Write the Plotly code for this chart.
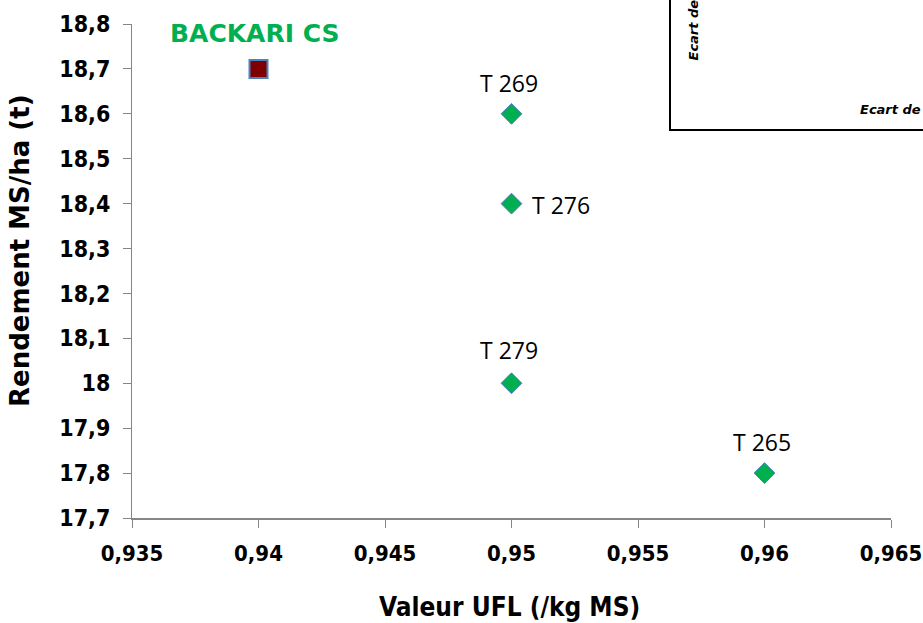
import plotly.graph_objects as go

# Data
ref_name = ["BACKARI CS"]
ref_ufl = [0.94]
ref_rend = [18.7]

names = ["T 269", "T 276", "T 279", "T 265"]
ufl = [0.95, 0.95, 0.95, 0.96]
rend = [18.6, 18.4, 18.0, 17.8]

x_ticks = [0.935, 0.94, 0.945, 0.95, 0.955, 0.96, 0.965]
x_tick_text = ["0,935", "0,94", "0,945", "0,95", "0,955", "0,96", "0,965"]
y_ticks = [17.7, 17.8, 17.9, 18.0, 18.1, 18.2, 18.3, 18.4, 18.5, 18.6, 18.7, 18.8]
y_tick_text = ["17,7", "17,8", "17,9", "18", "18,1", "18,2", "18,3", "18,4", "18,5", "18,6", "18,7", "18,8"]

x_title = "Valeur UFL (/kg MS)"
y_title = "Rendement MS/ha (t)"

# label placement styles (pixels)
label_style = [
    dict(xanchor="center", xshift=-3, yshift=31),
    dict(xanchor="left", xshift=18, yshift=-1),
    dict(xanchor="center", xshift=-3, yshift=33),
    dict(xanchor="center", xshift=-3, yshift=31),
]

W, H = 923, 623
L, R, T, B = 132, 32, 24, 105
pw, ph = W - L - R, H - T - B

label_font = dict(family="Open Sans, sans-serif", size=23, color="black")
cond_bold = "DejaVu Sans Condensed, DejaVu Sans, sans-serif"
tick_font = dict(family=cond_bold, size=23, color="black", weight="bold")

fig = go.Figure()

fig.add_trace(go.Scatter(
    x=ufl, y=rend, mode="markers",
    marker=dict(symbol="diamond", size=16, color="#00B050",
                line=dict(color="#4F81BD", width=1)),
    showlegend=False, cliponaxis=False, hoverinfo="skip",
))

fig.add_trace(go.Scatter(
    x=ref_ufl, y=ref_rend, mode="markers",
    marker=dict(symbol="square", size=18, color="#7F0000",
                line=dict(color="#4F81BD", width=2)),
    showlegend=False, cliponaxis=False, hoverinfo="skip",
))

for n, xv, yv, st in zip(names, ufl, rend, label_style):
    fig.add_annotation(x=xv, y=yv, text=n, showarrow=False, yanchor="middle",
                       font=label_font, **st)

for n, xv, yv in zip(ref_name, ref_ufl, ref_rend):
    fig.add_annotation(x=xv, y=yv, text="<b>" + n + "</b>", showarrow=False,
                       xanchor="center", yanchor="middle", xshift=-4, yshift=35,
                       font=dict(family="DejaVu Sans, sans-serif", size=25, color="#00B050"))

fig.update_layout(
    width=W, height=H,
    margin=dict(l=L, r=R, t=T, b=B, autoexpand=False),
    plot_bgcolor="white", paper_bgcolor="white",
    xaxis=dict(
        range=[0.935, 0.965], tickvals=x_ticks, ticktext=x_tick_text,
        showgrid=False, zeroline=False, showline=True, linecolor="#868686", linewidth=2,
        ticks="outside", ticklen=8, tickcolor="#868686",
        tickfont=dict(family=cond_bold, size=22, color="black", weight="bold"),
        ticklabelstandoff=7, automargin=False, ticklabeloverflow="allow",
    ),
    yaxis=dict(
        range=[17.7, 18.8], tickvals=y_ticks, ticktext=y_tick_text,
        showgrid=False, zeroline=False, showline=True, linecolor="#868686", linewidth=1,
        ticks="outside", ticklen=8, tickcolor="#868686", tickfont=tick_font,
        ticklabelstandoff=8, automargin=False, ticklabeloverflow="allow",
    ),
)

# axis titles
fig.add_annotation(xref="paper", yref="paper", x=(509 - L) / pw, y=(H - B - 607) / ph,
                   text="<b>" + x_title + "</b>", showarrow=False,
                   xanchor="center", yanchor="middle",
                   font=dict(family=cond_bold, size=26, color="black"))
fig.add_annotation(xref="paper", yref="paper", x=(20 - L) / pw, y=(H - B - 251) / ph,
                   text="<b>" + y_title + "</b>", showarrow=False, textangle=-90,
                   xanchor="center", yanchor="middle",
                   font=dict(family="DejaVu Sans, sans-serif", size=26, color="black"))

# partially visible box in top-right corner
fig.add_shape(type="rect", xref="paper", yref="paper",
              x0=(670 - L) / pw, x1=1.3, y0=(H - B - 130) / ph, y1=1.3,
              line=dict(color="black", width=2), fillcolor="rgba(0,0,0,0)")
fig.add_annotation(xref="paper", yref="paper", x=(693 - L) / pw, y=(H - B - 63) / ph,
                   text="<b><i>Ecart de</i></b>", textangle=-90, showarrow=False,
                   xanchor="center", yanchor="bottom",
                   font=dict(family="DejaVu Sans, sans-serif", size=13, color="black"))
fig.add_annotation(xref="paper", yref="paper", x=(858 - L) / pw, y=(H - B - 110) / ph,
                   text="<b><i>Ecart de</i></b>", showarrow=False,
                   xanchor="left", yanchor="middle",
                   font=dict(family="DejaVu Sans, sans-serif", size=13, color="black"))

fig.write_html("out.html", config={"displayModeBar": False},
               post_script="document.body.style.margin='0';")
